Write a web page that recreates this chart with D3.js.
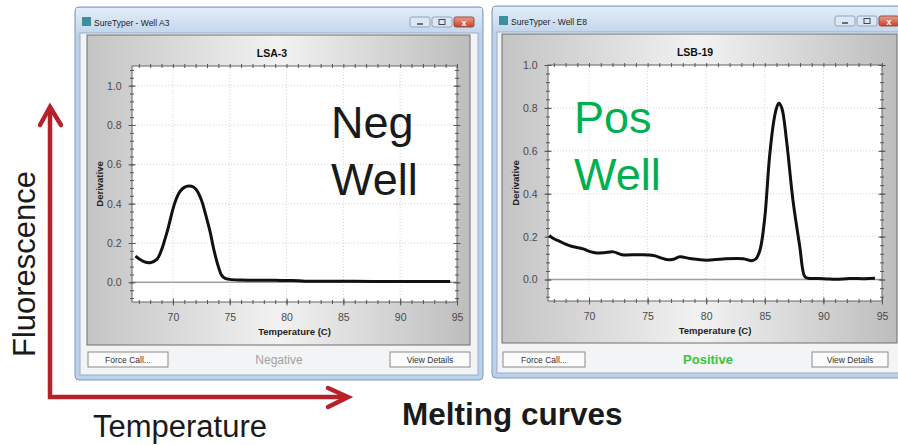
<!DOCTYPE html>
<meta charset="utf-8">
<script src="https://cdn.jsdelivr.net/npm/d3@7"></script>
<style>
body { margin: 0; background: #fff; }
text { font-family: "Liberation Sans", Arial, sans-serif; }
</style>
<body>
<script>

var width = 898
var height = 445

// melting curve data
var negTemp  = [66.7, 67.4, 68.0, 68.6, 69.0, 69.3, 69.6, 69.9, 70.2, 70.6, 71.0, 71.4, 71.8, 72.1, 72.5, 72.9, 73.3, 73.6, 74.0, 74.3, 74.6, 75.0, 76.0, 77.5, 79.0, 80.5, 81.6, 83.0, 86.0, 89.0, 92.0, 94.4]
var negDeriv = [0.133, 0.107, 0.100, 0.118, 0.165, 0.22, 0.28, 0.35, 0.41, 0.46, 0.483, 0.49, 0.485, 0.468, 0.42, 0.34, 0.25, 0.167, 0.08, 0.035, 0.02, 0.015, 0.012, 0.011, 0.010, 0.009, 0.006, 0.005, 0.005, 0.004, 0.004, 0.004]

var posTemp  = [66.6, 67.0, 67.5, 68.0, 68.5, 69.5, 70.1, 70.65, 71.3, 72.07, 72.8, 74.3, 75.5, 76.2, 76.6, 77.2, 77.75, 78.6, 80.0, 81.45, 83.15, 83.9, 84.25, 84.6, 85.0, 85.4, 85.77, 86.0, 86.2, 86.45, 86.85, 87.4, 87.98, 88.4, 88.7, 89.5, 90.3, 91.1, 92.2, 93.5, 94.4]
var posDeriv = [0.205, 0.19, 0.178, 0.165, 0.155, 0.143, 0.13, 0.124, 0.125, 0.129, 0.116, 0.116, 0.112, 0.10, 0.093, 0.095, 0.106, 0.098, 0.09, 0.096, 0.097, 0.088, 0.097, 0.14, 0.29, 0.57, 0.74, 0.80, 0.822, 0.80, 0.65, 0.37, 0.155, 0.015, 0.006, 0.005, 0.003, 0.001, 0.005, 0.004, 0.006]

var xTicks = [70, 75, 80, 85, 90, 95]
var yTicks = [0.0, 0.2, 0.4, 0.6, 0.8, 1.0]

var svg = d3.select("body").append("svg")
            .attr("width", width)
            .attr("height", height)

var defs = svg.append("defs")
var tbar = defs.append("linearGradient").attr("id", "tbar").attr("x1", 0).attr("y1", 0).attr("x2", 0).attr("y2", 1)
tbar.append("stop").attr("offset", "0%").attr("stop-color", "#e3edf8")
tbar.append("stop").attr("offset", "100%").attr("stop-color", "#c3d6ec")
var pgrad = defs.append("linearGradient").attr("id", "pgrad").attr("x1", 0).attr("y1", 0).attr("x2", 1).attr("y2", 0)
pgrad.append("stop").attr("offset", "0%").attr("stop-color", "#c4c4c4")
pgrad.append("stop").attr("offset", "50%").attr("stop-color", "#f2f2f2")
pgrad.append("stop").attr("offset", "100%").attr("stop-color", "#bdbdbd")
var close = defs.append("linearGradient").attr("id", "closeg").attr("x1", 0).attr("y1", 0).attr("x2", 0).attr("y2", 1)
close.append("stop").attr("offset", "0%").attr("stop-color", "#e8a08c")
close.append("stop").attr("offset", "100%").attr("stop-color", "#c8402a")

function drawWell(cfg) {
  var g = svg.append("g")
  var w = cfg.win, p = cfg.panel, pl = cfg.plot

  // window frame + title bar
  g.append("rect").attr("x", w[0]).attr("y", w[1]).attr("width", w[2]-w[0]).attr("height", w[3]-w[1])
   .attr("rx", 4).attr("fill", "#bcd2ea").attr("stroke", "#8199b6")
  g.append("rect").attr("x", w[0]+1).attr("y", w[1]+1).attr("width", w[2]-w[0]-2).attr("height", 25)
   .attr("fill", "url(#tbar)")
  g.append("rect").attr("x", w[0]+5).attr("y", w[1]+26).attr("width", w[2]-w[0]-10).attr("height", w[3]-w[1]-31)
   .attr("fill", "#f3f4f6").attr("stroke", "#9aaec6")

  // icon + caption
  g.append("rect").attr("x", w[0]+7).attr("y", w[1]+10).attr("width", 9).attr("height", 9).attr("fill", "#3d8fa0")
  g.append("text").attr("x", w[0]+19).attr("y", w[1]+19).style("font-size", "8.5px").attr("fill", "#222").text(cfg.caption)

  // min / max / close
  var bx = cfg.ctrl
  g.append("rect").attr("x", bx).attr("y", w[1]+10).attr("width", 20).attr("height", 10).attr("rx", 2).attr("fill", "#dce7f3").attr("stroke", "#8fa5c0")
  g.append("rect").attr("x", bx+22).attr("y", w[1]+10).attr("width", 20).attr("height", 10).attr("rx", 2).attr("fill", "#dce7f3").attr("stroke", "#8fa5c0")
  g.append("rect").attr("x", bx+44).attr("y", w[1]+10).attr("width", 20).attr("height", 10).attr("rx", 2).attr("fill", "url(#closeg)").attr("stroke", "#9a4a3a")
  g.append("line").attr("x1", bx+7).attr("x2", bx+13).attr("y1", w[1]+17).attr("y2", w[1]+17).attr("stroke", "#445").attr("stroke-width", 1.5)
  g.append("rect").attr("x", bx+29).attr("y", w[1]+12.5).attr("width", 6).attr("height", 5).attr("fill", "none").attr("stroke", "#445")
  g.append("text").attr("x", bx+54).attr("y", w[1]+18.5).attr("text-anchor", "middle").style("font-size", "9px").style("font-weight", "bold").attr("fill", "#fff").text("x")

  // gray chart panel
  g.append("rect").attr("x", p[0]).attr("y", p[1]).attr("width", p[2]-p[0]).attr("height", p[3]-p[1])
   .attr("fill", "url(#pgrad)").attr("stroke", "#6f6f6f")

  var x = d3.scaleLinear().domain(cfg.xDomain).range([pl[0], pl[2]])
  var y = d3.scaleLinear().domain(cfg.yDomain).range([pl[3], pl[1]])

  g.append("rect").attr("x", pl[0]).attr("y", pl[1]).attr("width", pl[2]-pl[0]).attr("height", pl[3]-pl[1])
   .attr("fill", "#fff")

  // dotted grid
  g.selectAll(".gx").data(xTicks.slice(0, -1)).enter().append("line")
   .attr("x1", d => x(d)).attr("x2", d => x(d)).attr("y1", pl[1]).attr("y2", pl[3])
   .attr("stroke", "#d4d4d4").attr("stroke-dasharray", "1,2")
  g.selectAll(".gy").data(yTicks.slice(1)).enter().append("line")
   .attr("x1", pl[0]).attr("x2", pl[2]).attr("y1", d => y(d)).attr("y2", d => y(d))
   .attr("stroke", "#d4d4d4").attr("stroke-dasharray", "1,2")
  g.append("line").attr("x1", pl[0]).attr("x2", pl[2]).attr("y1", y(0)).attr("y2", y(0))
   .attr("stroke", "#a0a0a0").attr("stroke-width", 1.5)

  g.append("rect").attr("x", pl[0]).attr("y", pl[1]).attr("width", pl[2]-pl[0]).attr("height", pl[3]-pl[1])
   .attr("fill", "none").attr("stroke", "#666")

  var xMinor = d3.range(67, 96, 1)
  var yMinor = d3.range(-0.08, cfg.yDomain[1] + 0.001, 0.04)

  function crossTicks(sel, dir, big) {
    var s = big ? 3.5 : 2
    sel.selectAll(".tick line").attr(dir, s)
    sel.select(".domain").remove()
  }

  // left / right axes
  var yl = g.append("g").attr("transform", "translate(" + pl[0] + ",0)")
            .call(d3.axisLeft(y).tickValues(yTicks).tickSizeInner(3.5).tickSizeOuter(0).tickPadding(7).tickFormat(d3.format(".1f")))
  crossTicks(yl, "x1", true)
  yl.selectAll("text").style("font-size", "10.5px").attr("fill", "#4a4a4a")
  var ylm = g.append("g").attr("transform", "translate(" + pl[0] + ",0)")
            .call(d3.axisLeft(y).tickValues(yMinor).tickSize(2).tickFormat(""))
  crossTicks(ylm, "x1", false)
  var yr = g.append("g").attr("transform", "translate(" + pl[2] + ",0)")
            .call(d3.axisRight(y).tickValues(yTicks).tickSize(3.5).tickFormat(""))
  crossTicks(yr, "x1", true)
  yr.selectAll(".tick line").attr("x1", -3.5)
  var yrm = g.append("g").attr("transform", "translate(" + pl[2] + ",0)")
            .call(d3.axisRight(y).tickValues(yMinor).tickSize(2).tickFormat(""))
  crossTicks(yrm, "x1", false)
  yrm.selectAll(".tick line").attr("x1", -2)

  // bottom / top axes
  var xb = g.append("g").attr("transform", "translate(0," + pl[3] + ")")
            .call(d3.axisBottom(x).tickValues(xTicks).tickSizeInner(3.5).tickSizeOuter(0).tickPadding(8))
  xb.selectAll(".tick line").attr("y1", -3.5)
  xb.select(".domain").remove()
  xb.selectAll("text").style("font-size", "10.5px").attr("fill", "#4a4a4a")
  var xbm = g.append("g").attr("transform", "translate(0," + pl[3] + ")")
            .call(d3.axisBottom(x).tickValues(xMinor).tickSize(2).tickFormat(""))
  xbm.selectAll(".tick line").attr("y1", -2)
  xbm.select(".domain").remove()
  var xt = g.append("g").attr("transform", "translate(0," + pl[1] + ")")
            .call(d3.axisTop(x).tickValues(xMinor).tickSize(2).tickFormat(""))
  xt.selectAll(".tick line").attr("y1", 2)
  xt.select(".domain").remove()
  g.selectAll(".tick line").attr("stroke", "#555")

  // axis titles
  g.append("text").attr("x", (pl[0]+pl[2])/2).attr("y", pl[3] + 33).attr("text-anchor", "middle")
   .style("font-size", "9.5px").style("font-weight", "bold").attr("fill", "#222").text("Temperature (C)")
  g.append("text").attr("transform", "translate(" + (pl[0] - 29) + "," + ((pl[1]+pl[3])/2) + ") rotate(-90)")
   .attr("text-anchor", "middle").style("font-size", "9.5px").style("font-weight", "bold").attr("fill", "#222").text("Derivative")
  g.append("text").attr("x", cfg.titleX).attr("y", p[1] + 22).attr("text-anchor", "middle")
   .style("font-size", "10.5px").style("font-weight", "bold").attr("fill", "#111").text(cfg.chartTitle)

  // melting curve
  var line = d3.line().x(d => x(d[0])).y(d => y(d[1])).curve(d3.curveCatmullRom.alpha(0.5))
  g.append("path").datum(d3.zip(cfg.temps, cfg.derivs)).attr("d", line)
   .attr("fill", "none").attr("stroke", "#111").attr("stroke-width", 3).attr("stroke-linejoin", "round")

  // bottom buttons + status
  cfg.buttons.forEach(function(b) {
    g.append("rect").attr("x", b[0]).attr("y", 352).attr("width", b[1]-b[0]).attr("height", 15)
     .attr("fill", "#fbfbfb").attr("stroke", "#8a8a8a")
    g.append("text").attr("x", (b[0]+b[1])/2).attr("y", 363).attr("text-anchor", "middle")
     .style("font-size", "8.5px").attr("fill", "#333").text(b[2])
  })
  g.append("text").attr("x", cfg.statusX).attr("y", 364).attr("text-anchor", "middle")
   .style("font-size", cfg.statusSize).style("font-weight", cfg.statusWeight).attr("fill", cfg.statusColor).text(cfg.status)

  // big overlay label
  cfg.label.forEach(function(t, i) {
    g.append("text").attr("x", cfg.labelX).attr("y", cfg.labelY + i * 57)
     .style("font-size", "45px").attr("fill", cfg.labelColor).text(t)
  })
}

drawWell({
  win: [75, 7, 483, 380], panel: [87, 35, 470, 345], plot: [132, 66, 457, 302],
  xDomain: [66.4, 95], yDomain: [-0.1, 1.1],
  caption: "SureTyper - Well A3", ctrl: 410, chartTitle: "LSA-3", titleX: 272,
  temps: negTemp, derivs: negDeriv,
  buttons: [[88, 168, "Force Call..."], [390, 470, "View Details"]],
  status: "Negative", statusX: 279, statusColor: "#a2a2a2", statusSize: "12px", statusWeight: "normal",
  label: ["Neg", "Well"], labelX: 331, labelY: 138, labelColor: "#1a1a1a"
})

drawWell({
  win: [492, 6, 912, 378], panel: [502, 34, 897, 343], plot: [548, 65, 882, 301],
  xDomain: [66.5, 95], yDomain: [-0.1, 1.0],
  caption: "SureTyper - Well E8", ctrl: 835, chartTitle: "LSB-19", titleX: 695,
  temps: posTemp, derivs: posDeriv,
  buttons: [[503, 585, "Force Call..."], [812, 888, "View Details"]],
  status: "Positive", statusX: 708, statusColor: "#3cc43c", statusSize: "13px", statusWeight: "bold",
  label: ["Pos", "Well"], labelX: 574, labelY: 133, labelColor: "#00b050"
})

// red axis arrows
var red = "#b8202a"
svg.append("path").attr("d", "M50,108 L50,397 L346,397").attr("fill", "none")
   .attr("stroke", red).attr("stroke-width", 4.5).attr("stroke-linejoin", "miter")
svg.append("path").attr("d", "M40,125 L50,107 L61,125").attr("fill", "none")
   .attr("stroke", red).attr("stroke-width", 4.5).attr("stroke-linecap", "round")
svg.append("path").attr("d", "M328,388 L348,397 L328,407").attr("fill", "none")
   .attr("stroke", red).attr("stroke-width", 4.5).attr("stroke-linecap", "round")

svg.append("text").attr("transform", "translate(35,264) rotate(-90)").attr("text-anchor", "middle")
   .style("font-size", "31px").attr("fill", "#1a1a1a").text("Fluorescence")
svg.append("text").attr("x", 93).attr("y", 437)
   .style("font-size", "31px").attr("fill", "#1a1a1a").text("Temperature")
svg.append("text").attr("x", 402).attr("y", 425)
   .style("font-size", "31.5px").style("font-weight", "bold").attr("fill", "#1a1a1a").text("Melting curves")

</script>
</body>
